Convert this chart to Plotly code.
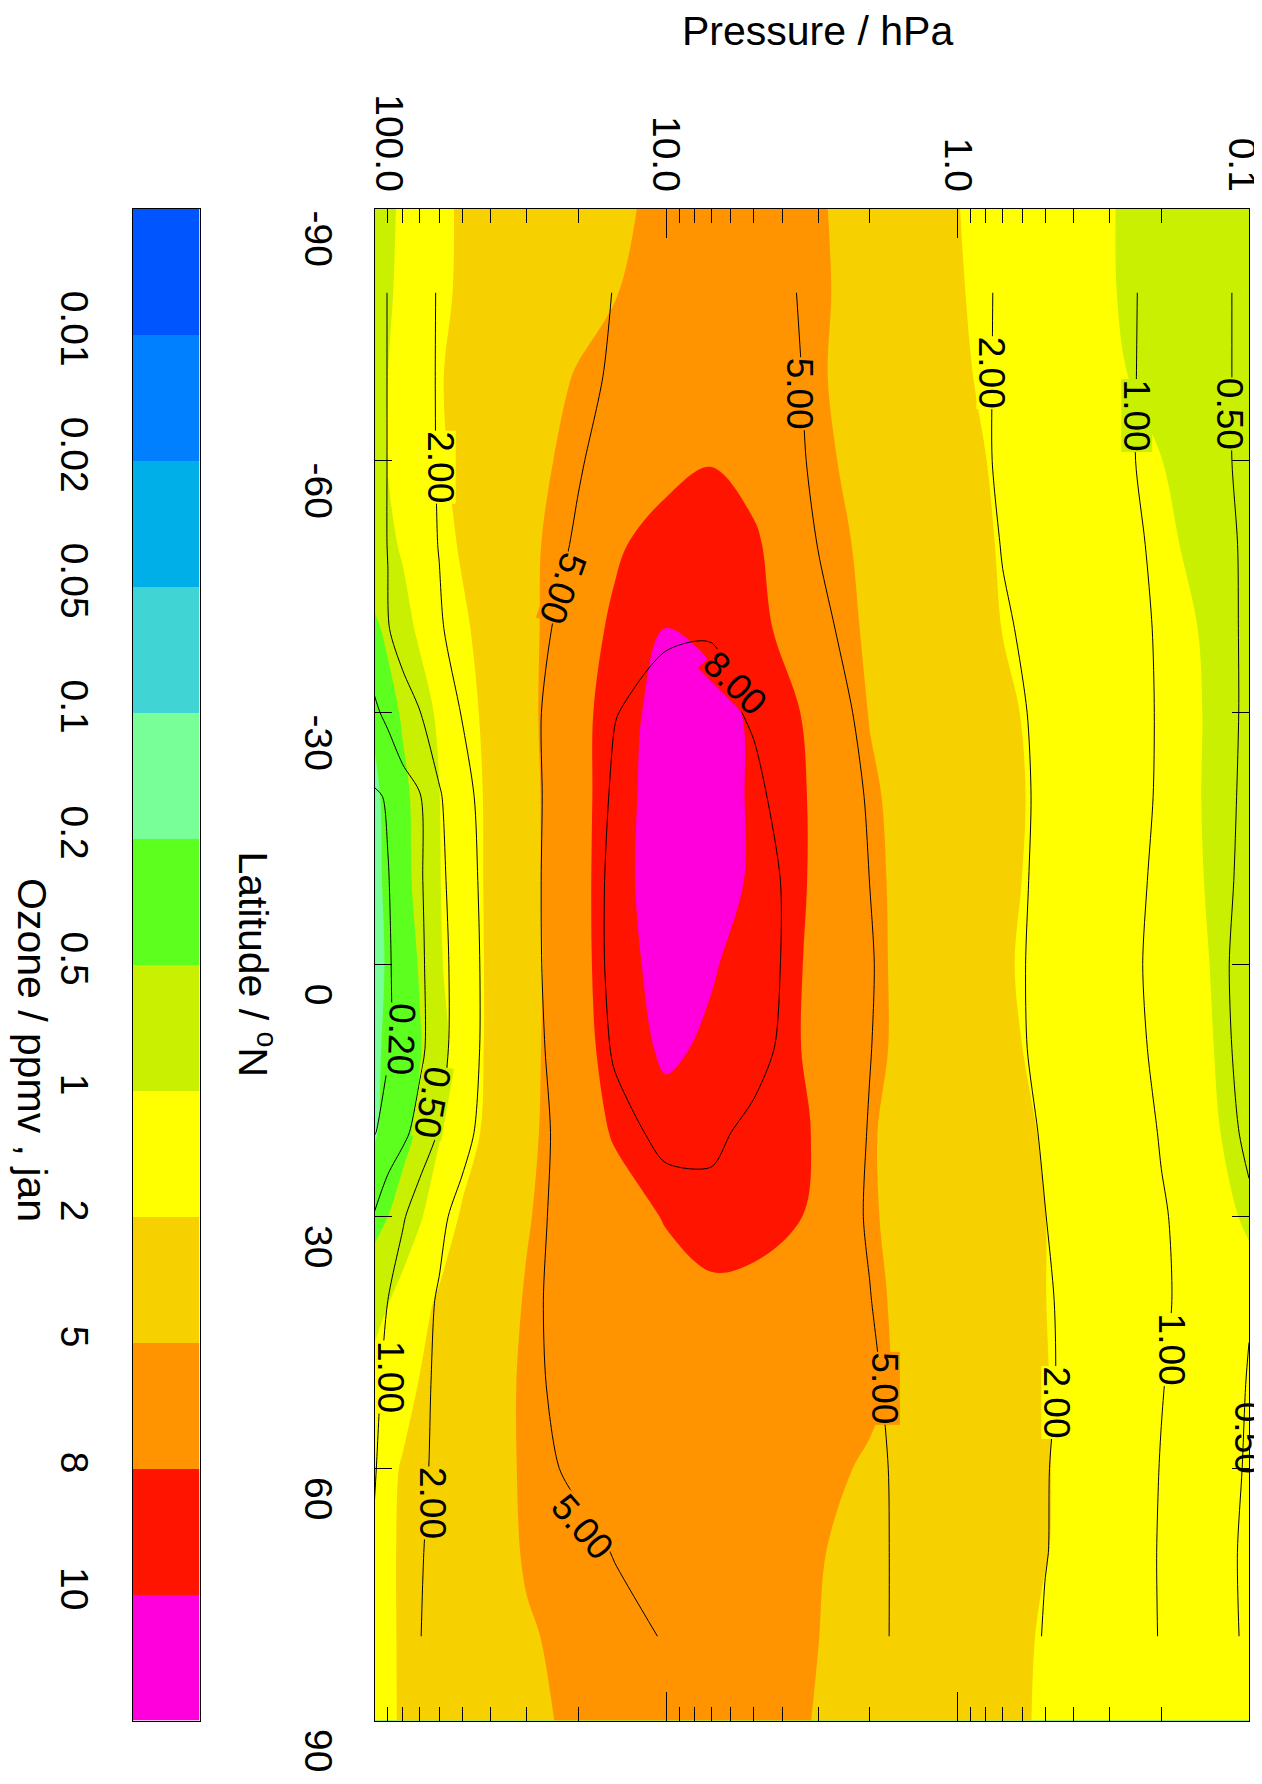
import numpy as np
import plotly.graph_objects as go

# ---------------- axes / categories ----------------
pressure_hpa = [100, 90, 80, 70, 60, 50, 40, 30, 20, 15, 10, 7, 5, 3, 2, 1.5, 1,
                0.7, 0.5, 0.3, 0.2, 0.15, 0.1]
fill_lats = [-90, -80, -70, -60, -50, -40, -30, -20, -10, 0, 10, 20, 30, 40, 50, 60, 70, 80, 90]
line_lats = [-80, -70, -60, -50, -40, -30, -20, -10, 0, 10, 20, 30, 40, 50, 60, 70, 80]

# ---------------- filled field (ozone, ppmv), one row per latitude ----------------
fill_s90 = [0.85, 0.93, 1.12, 1.46, 1.85, 2.25, 2.69, 3.25, 4.05, 4.62, 5.5, 6.3, 6.3, 5.2, 4.1, 3.25, 2.05, 1.72, 1.45, 1.03, 0.88, 0.78, 0.65]
fill_s80 = [0.87, 0.95, 1.18, 1.5, 1.87, 2.28, 2.77, 3.4, 4.28, 4.91, 5.8, 6.6, 6.6, 5.3, 4.1, 3.3, 2.16, 1.75, 1.47, 1.04, 0.87, 0.77, 0.62]
fill_s70 = [0.9, 1.0, 1.27, 1.59, 1.96, 2.48, 3.15, 4.0, 5.15, 5.9, 6.9, 7.3, 6.8, 5.2, 4.1, 3.36, 2.3, 1.81, 1.53, 1.12, 0.89, 0.77, 0.6]
fill_s60 = [0.92, 1.02, 1.27, 1.56, 1.9, 2.51, 3.35, 4.42, 5.55, 6.18, 7.06, 7.85, 7.3, 5.4, 4.31, 3.58, 2.55, 1.9, 1.66, 1.3, 1.01, 0.88, 0.65]
fill_s50 = [0.85, 0.91, 1.1, 1.4, 1.73, 2.25, 3.23, 4.5, 6.3, 7.6, 8.8, 9.2, 8.2, 5.94, 4.49, 3.76, 2.72, 1.95, 1.73, 1.39, 1.12, 0.94, 0.7]
fill_s40 = [0.45, 0.6, 0.85, 1.14, 1.48, 1.88, 2.89, 4.42, 6.76, 8.32, 10.05, 9.2, 8.44, 6.39, 4.66, 3.92, 2.89, 1.99, 1.78, 1.45, 1.19, 1.0, 0.75]
fill_s30 = [0.25, 0.39, 0.56, 0.81, 1.15, 1.68, 2.68, 4.4, 7.1, 8.85, 11.0, 11.2, 9.49, 7.13, 4.92, 4.2, 3.19, 2.3, 1.85, 1.51, 1.23, 1.04, 0.8]
fill_s20 = [0.18, 0.28, 0.43, 0.66, 0.99, 1.55, 2.5, 4.25, 7.08, 8.97, 11.3, 11.3, 9.64, 7.47, 5.29, 4.39, 3.34, 2.42, 1.88, 1.52, 1.23, 1.03, 0.8]
fill_s10 = [0.17, 0.27, 0.41, 0.64, 0.98, 1.55, 2.47, 4.22, 7.1, 9.08, 11.4, 11.4, 9.58, 7.5, 5.46, 4.46, 3.33, 2.34, 1.86, 1.51, 1.24, 1.05, 0.82]
fill_eq = [0.16, 0.24, 0.37, 0.53, 0.95, 1.52, 2.43, 4.07, 7.1, 9.0, 10.9, 10.2, 9.15, 7.45, 5.53, 4.47, 3.27, 2.2, 1.83, 1.52, 1.27, 1.09, 0.85]
fill_n10 = [0.18, 0.26, 0.36, 0.48, 0.84, 1.47, 2.5, 4.23, 7.03, 8.68, 10.4, 9.63, 8.9, 7.51, 5.52, 4.49, 3.35, 2.34, 1.87, 1.55, 1.3, 1.12, 0.87]
fill_n20 = [0.19, 0.29, 0.4, 0.59, 0.96, 1.6, 2.7, 4.45, 6.8, 8.15, 9.1, 9.5, 9.0, 7.8, 5.15, 4.45, 3.47, 2.61, 1.95, 1.61, 1.35, 1.16, 0.9]
fill_n30 = [0.4, 0.5, 0.71, 0.95, 1.5, 2.29, 3.42, 4.88, 6.12, 6.96, 8.1, 8.9, 8.8, 7.6, 5.18, 4.5, 3.58, 2.77, 2.01, 1.67, 1.41, 1.23, 0.97]
fill_n40 = [0.85, 0.98, 1.32, 1.74, 2.32, 3.1, 4.06, 5.15, 6.0, 6.5, 7.1, 7.3, 7.0, 6.1, 5.3, 4.68, 3.7, 2.85, 2.01, 1.8, 1.6, 1.45, 1.15]
fill_n50 = [1.3, 1.52, 1.77, 2.09, 2.73, 3.48, 4.39, 5.25, 5.9, 6.25, 6.6, 6.8, 6.6, 6.0, 5.35, 4.67, 3.74, 2.8, 2.03, 1.85, 1.65, 1.5, 1.25]
fill_n60 = [1.6, 1.85, 2.16, 2.61, 3.13, 3.74, 4.48, 5.2, 5.7, 6.0, 6.3, 6.4, 6.1, 5.4, 4.8, 4.27, 3.52, 2.7, 2.06, 1.8, 1.6, 1.47, 1.25]
fill_n70 = [1.6, 1.9, 2.24, 2.65, 3.11, 3.66, 4.34, 5.15, 5.6, 5.85, 6.0, 5.95, 5.6, 5.1, 4.43, 3.93, 3.23, 2.62, 2.04, 1.8, 1.6, 1.47, 1.25]
fill_n80 = [1.6, 1.9, 2.22, 2.58, 3.0, 3.48, 4.09, 4.86, 5.4, 5.65, 5.8, 5.75, 5.5, 5.01, 4.3, 3.8, 3.1, 2.48, 1.95, 1.75, 1.58, 1.45, 1.25]
fill_n90 = [1.6, 1.9, 2.2, 2.54, 2.93, 3.38, 3.94, 4.66, 5.3, 5.5, 5.7, 5.65, 5.4, 4.95, 4.25, 3.75, 3.05, 2.44, 1.93, 1.73, 1.57, 1.45, 1.25]

# ---------------- contour-line field (ozone, ppmv), one row per latitude ----------------
line_s80 = [0.85, 1.01, 1.32, 1.68, 2.07, 2.47, 2.95, 3.56, 4.44, 5.05, 5.9, 6.2, 5.7, 4.64, 3.83, 3.25, 2.43, 1.88, 1.59, 1.16, 0.86, 0.66, 0.42]
line_s70 = [0.85, 1.01, 1.33, 1.68, 2.08, 2.49, 3.0, 3.65, 4.58, 5.2, 6.1, 6.5, 5.9, 4.69, 3.86, 3.27, 2.43, 1.87, 1.59, 1.16, 0.85, 0.66, 0.42]
line_s60 = [0.85, 1.01, 1.32, 1.67, 2.07, 2.53, 3.1, 3.83, 4.87, 5.6, 6.6, 7.3, 6.5, 4.65, 3.93, 3.31, 2.43, 1.87, 1.58, 1.15, 0.85, 0.66, 0.42]
line_s50 = [0.85, 1.01, 1.31, 1.64, 2.03, 2.55, 3.19, 4.02, 5.2, 6.1, 7.2, 7.8, 7.2, 4.96, 4.11, 3.5, 2.65, 1.96, 1.67, 1.22, 0.9, 0.71, 0.44]
line_s40 = [0.7, 0.97, 1.24, 1.54, 1.88, 2.47, 3.29, 4.35, 5.7, 6.7, 7.8, 7.9, 7.2, 5.3, 4.37, 3.75, 2.87, 2.1, 1.74, 1.28, 0.94, 0.73, 0.44]
line_s30 = [0.45, 0.57, 0.76, 0.98, 1.46, 2.05, 3.09, 4.41, 6.5, 7.95, 8.55, 8.5, 7.81, 5.84, 4.58, 3.95, 3.06, 2.27, 1.8, 1.32, 0.95, 0.74, 0.44]
line_s20 = [0.17, 0.22, 0.34, 0.47, 0.92, 1.57, 2.59, 4.27, 6.72, 8.25, 8.9, 9.0, 8.4, 6.44, 4.82, 4.14, 3.2, 2.36, 1.82, 1.32, 0.94, 0.72, 0.43]
line_s10 = [0.14, 0.19, 0.3, 0.44, 0.81, 1.45, 2.45, 4.25, 6.95, 8.4, 9.0, 9.2, 8.7, 7.0, 4.99, 4.26, 3.23, 2.33, 1.79, 1.27, 0.9, 0.69, 0.42]
line_eq = [0.13, 0.18, 0.27, 0.42, 0.74, 1.36, 2.39, 4.21, 6.95, 8.4, 9.0, 9.2, 8.7, 7.0, 5.1, 4.3, 3.22, 2.28, 1.76, 1.23, 0.87, 0.66, 0.4]
line_n10 = [0.14, 0.18, 0.27, 0.41, 0.74, 1.39, 2.38, 4.13, 6.6, 8.2, 8.9, 9.0, 8.6, 6.7, 5.04, 4.28, 3.23, 2.3, 1.78, 1.27, 0.9, 0.68, 0.41]
line_n20 = [0.19, 0.28, 0.41, 0.64, 1.03, 1.6, 2.56, 4.15, 6.0, 7.45, 8.4, 8.35, 7.6, 6.1, 4.93, 4.27, 3.35, 2.53, 1.89, 1.37, 0.97, 0.75, 0.44]
line_n30 = [0.52, 0.72, 0.94, 1.3, 1.75, 2.39, 3.3, 4.47, 5.8, 6.5, 7.3, 7.5, 7.0, 5.7, 4.9, 4.3, 3.45, 2.71, 2.01, 1.48, 1.04, 0.84, 0.55]
line_n40 = [0.9, 1.0, 1.31, 1.66, 2.1, 2.78, 3.6, 4.67, 5.7, 6.3, 6.85, 7.0, 6.6, 5.7, 5.03, 4.42, 3.55, 2.79, 2.08, 1.5, 1.07, 0.83, 0.52]
line_n50 = [0.93, 1.08, 1.39, 1.74, 2.19, 2.84, 3.62, 4.64, 5.6, 6.1, 6.6, 6.8, 6.5, 5.75, 5.2, 4.57, 3.66, 2.85, 2.1, 1.47, 1.02, 0.79, 0.48]
line_n60 = [0.97, 1.19, 1.47, 1.8, 2.23, 2.8, 3.5, 4.4, 5.35, 5.8, 6.3, 6.5, 6.3, 5.7, 5.3, 4.71, 3.73, 2.86, 2.04, 1.43, 0.98, 0.76, 0.46]
line_n70 = [1.05, 1.3, 1.58, 1.93, 2.26, 2.62, 3.08, 3.66, 4.48, 5.07, 5.6, 5.9, 6.0, 5.7, 5.3, 4.74, 3.74, 2.86, 2.03, 1.41, 0.96, 0.74, 0.43]
line_n80 = [1.1, 1.36, 1.65, 1.98, 2.24, 2.53, 2.9, 3.36, 4.02, 4.49, 5.1, 5.35, 5.5, 5.5, 5.25, 4.78, 3.69, 2.73, 1.93, 1.39, 0.97, 0.75, 0.44]

# ---------------- levels, colours, tick labels ----------------
color_levels = [0.01, 0.02, 0.05, 0.1, 0.2, 0.5, 1, 2, 5, 8, 10]
level_labels = ["0.01", "0.02", "0.05", "0.1", "0.2", "0.5", "1", "2", "5", "8", "10"]
band_colors = ["#0055ff", "#007fff", "#00aee8", "#40d4d4", "#78ff98", "#5cff1e",
               "#c8f000", "#ffff00", "#f7d000", "#ff9400", "#ff1400", "#ff00dc"]
line_levels = [0.2, 0.5, 1, 2, 5, 8]
lat_ticks = [-90, -60, -30, 0, 30, 60, 90]
lat_tick_text = ["-90", "-60", "-30", "0", "30", "60", "90"]
p_ticks = [100, 10, 1, 0.1]
p_tick_text = ['<span style="baseline-shift:14px">100.0</span>', "10.0", "1.0",
               '<span style="baseline-shift:-7px">0.1</span>']
p_minor = [90, 80, 70, 60, 50, 40, 30, 20, 9, 8, 7, 6, 5, 4, 3, 2,
           0.9, 0.8, 0.7, 0.6, 0.5, 0.4, 0.3, 0.2]

# contour-line labels as placed in the chart (value, pressure hPa, latitude, angle, band behind)
clabel_text = ["2.00", "5.00", "5.00", "8.00", "2.00", "1.00", "0.50", "0.20",
               "0.50", "1.00", "2.00", "5.00", "5.00", "2.00", "1.00", "0.50"]
clabel_p = [59.6, 22.6, 3.48, 5.81, 0.764, 0.243, 0.1167, 81.1,
            63.5, 87.8, 63.0, 19.4, 1.78, 0.457, 0.1845, 0.1012]
clabel_lat = [-59.2, -44.8, -68.0, -33.5, -70.5, -65.4, -65.5, 8.9,
              16.4, 49.1, 64.1, 67.0, 50.4, 52.1, 45.9, 56.4]
clabel_angle = [90, 110, 90, 45, 90, 90, 90, 92,
                100, 90, 90, 49, 90, 90, 90, 90]
clabel_band = [7, 9, 9, 10, 7, 6, 6, 5,
               6, 7, 8, 9, 9, 7, 7, -1]

fill_z = np.array([fill_s90, fill_s80, fill_s70, fill_s60, fill_s50, fill_s40, fill_s30,
                   fill_s20, fill_s10, fill_eq, fill_n10, fill_n20, fill_n30, fill_n40,
                   fill_n50, fill_n60, fill_n70, fill_n80, fill_n90])
line_z = np.array([line_s80, line_s70, line_s60, line_s50, line_s40, line_s30, line_s20,
                   line_s10, line_eq, line_n10, line_n20, line_n30, line_n40, line_n50,
                   line_n60, line_n70, line_n80])

# map values onto the (non-uniform) level index so that Plotly's uniform contour
# levels fall on the chart's colour-band boundaries (top band continues the 8-10 slope)
lev_ext = [0.0] + color_levels + [12.0]
idx_ext = list(range(-1, len(color_levels) + 1))
band_z = np.interp(fill_z, lev_ext, idx_ext)

nb = len(band_colors)
cscale = [[i / (nb - 1), c] for i, c in enumerate(band_colors)]

FONT = "Liberation Sans, Arial, Helvetica, sans-serif"
OFF = 8                      # the page body adds an 8 px margin around the figure
PAGE_W, PAGE_H = 1262, 1784
W, H = PAGE_W - OFF, PAGE_H - OFF


def fx(px):  # page x (px) -> paper fraction
    return (px - OFF) / W


def fy(py):  # page y (px, from top) -> paper fraction
    return 1 - (py - OFF) / H


pl, pr, pt, pb = 374.5, 1249.0, 208.5, 1720.5
cbl, cbr = 132.5, 199.5
xdom = [fx(pl), fx(pr)]
ydom = [fy(pb), fy(pt)]

fig = go.Figure()

fig.add_trace(go.Contour(
    x=pressure_hpa, y=fill_lats, z=band_z,
    autocontour=False,
    contours=dict(start=0, end=len(color_levels) - 1, size=1, coloring="fill", showlines=False),
    colorscale=cscale, showscale=False,
    line=dict(width=0, smoothing=1),
    hoverinfo="skip",
))

for lv in line_levels:
    fig.add_trace(go.Contour(
        x=pressure_hpa, y=line_lats, z=line_z,
        autocontour=False,
        contours=dict(start=lv, end=lv + 0.5 * lv, size=lv * 10, coloring="none",
                      showlabels=False),
        line=dict(color="black", width=1, smoothing=0.8),
        showscale=False, hoverinfo="skip",
    ))

# colour key drawn as a one-column heatmap of the bands
fig.add_trace(go.Heatmap(
    x=[0], y=list(range(nb)), z=[[i] for i in range(nb)],
    colorscale=cscale, zmin=0, zmax=nb - 1, showscale=False,
    xaxis="x2", yaxis="y2", hoverinfo="skip",
))

annotations = [
    dict(text="Pressure / hPa", xref="paper", yref="paper",
         x=fx(817), y=fy(31), xanchor="center", yanchor="middle",
         showarrow=False, font=dict(size=41)),
    dict(text="Latitude / <sup>o</sup>N", xref="paper", yref="paper",
         x=fx(256), y=fy((pt + pb) / 2), xanchor="center", yanchor="middle",
         textangle=90, showarrow=False, font=dict(size=41)),
    dict(text="Ozone / ppmv , jan", xref="paper", yref="paper",
         x=fx(32), y=fy(1050), xanchor="center", yanchor="middle",
         textangle=90, showarrow=False, font=dict(size=41)),
]
for t, p, la, ang, b in zip(clabel_text, clabel_p, clabel_lat, clabel_angle, clabel_band):
    annotations.append(dict(
        text=t, x=np.log10(p), y=la, xref="x", yref="y",
        xanchor="center", yanchor="middle", textangle=ang, showarrow=False,
        font=dict(size=37, color="black"), height=30,
        bgcolor=band_colors[b] if b >= 0 else "rgba(0,0,0,0)", borderpad=0,
    ))

fig.update_layout(
    template="none",
    width=W, height=H, autosize=False,
    margin=dict(l=0, r=0, t=0, b=0, autoexpand=False),
    paper_bgcolor="white", plot_bgcolor="white",
    font=dict(family=FONT, color="black", size=39),
    showlegend=False,
    xaxis=dict(
        type="log", range=[2.00001, -1.00001], domain=xdom, anchor="y", side="top",
        automargin=False, ticklabeloverflow="allow",
        showline=True, linecolor="black", linewidth=1, mirror="ticks",
        ticks="inside", ticklen=29, tickwidth=1, tickcolor="black",
        tickmode="array", tickvals=p_ticks, ticktext=p_tick_text, tickangle=90,
        tickfont=dict(size=39), ticklabelstandoff=2,
        minor=dict(tickmode="array", tickvals=p_minor, ticks="inside", ticklen=14,
                   tickcolor="black", tickwidth=1, showgrid=False),
        showgrid=False, zeroline=False,
    ),
    yaxis=dict(
        range=[90, -90], domain=ydom, anchor="x", side="left", automargin=False,
        ticklabeloverflow="allow",
        showline=True, linecolor="black", linewidth=1, mirror="ticks",
        ticks="inside", ticklen=17, tickwidth=1, tickcolor="black",
        tickmode="array", tickvals=lat_ticks, ticktext=lat_tick_text, tickangle=90,
        tickfont=dict(size=39), ticklabelstandoff=22, ticklabelshift=-36,
        showgrid=False, zeroline=False,
    ),
    xaxis2=dict(
        domain=[fx(cbl), fx(cbr)], anchor="y2", range=[-0.5, 0.5], automargin=False,
        showline=True, linecolor="black", linewidth=1, mirror=True,
        showticklabels=False, ticks="", showgrid=False, zeroline=False,
    ),
    yaxis2=dict(
        domain=ydom, anchor="x2", range=[nb - 0.5, -0.5], side="left", automargin=False,
        showline=True, linecolor="black", linewidth=1, mirror=True,
        tickmode="array", tickvals=[i + 0.5 for i in range(len(level_labels))],
        ticktext=level_labels, ticks="", tickangle=90, tickfont=dict(size=39),
        ticklabelstandoff=24, showgrid=False, zeroline=False,
    ),
    annotations=annotations,
)

fig.write_html("out.html")
